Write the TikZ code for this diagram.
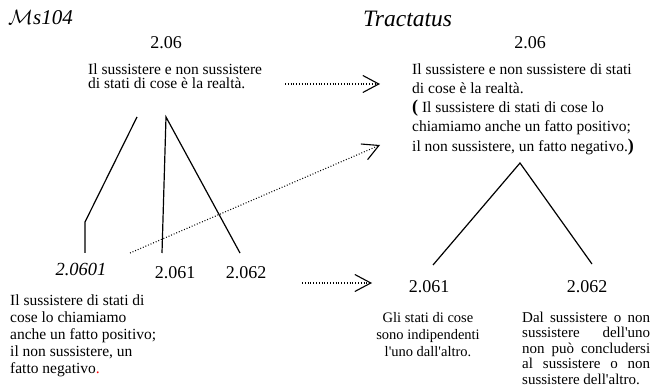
\documentclass[tikz,border=0pt]{standalone}
\usepackage{fontspec}
\setmainfont{Liberation Serif}
\usepackage{tikz}
\usetikzlibrary{arrows.meta,positioning}
\setlength{\lineskiplimit}{-30pt}
\newcommand{\jline}[1]{\makebox[128pt][s]{#1}}

\begin{document}
\begin{tikzpicture}[x=1pt,y=-1pt,
  num/.style={font=\fontsize{18}{20}\selectfont,inner sep=0pt,anchor=base},
  prose/.style={inner sep=0pt,anchor=north west,align=left},
  branch/.style={line width=1.2pt},
  ref/.style={line width=1.1pt,dash pattern=on 0.9pt off 1.9pt,
    -{Straight Barb[length=16pt,width=17pt,line width=1.1pt]}}]
  \useasboundingbox (0,0) rectangle (661,387);
  % Titles
  \node[inner sep=0pt,anchor=base west,font=\fontsize{21}{22}\selectfont\itshape]
    (mstitle) at (8,25) {$\mathcal{M}$s104};
  \node[inner sep=0pt,anchor=base west,font=\fontsize{23.5}{24}\selectfont\itshape]
    (tractitle) at (363,27) {Tractatus};
  % Ms104 side
  \node[num] (ms206) at (166,49) {2.06};
  \node[prose,font=\fontsize{15.5}{14.5}\selectfont] (ms206text) at (88,63.4)
    {Il sussistere e non sussistere\\di stati di cose è la realtà.};
  \node[num,font=\fontsize{18.5}{20}\selectfont\itshape] (ms20601) at (81,276) {2.0601};
  \node[num] (ms2061) at (175,279) {2.061};
  \node[num] (ms2062) at (246,279) {2.062};
  \node[prose,font=\fontsize{15.5}{17}\selectfont] (ms20601text) at (10,294.4)
    {Il sussistere di stati di\\cose lo chiamiamo\\anche un fatto positivo;\\
     il non sussistere, un\\fatto negativo\textcolor{red}{.}};
  % Tractatus side
  \node[num] (tr206) at (530,49) {2.06};
  \node[prose,font=\fontsize{15.5}{19.2}\selectfont] (tr206text) at (412,63.4)
    {Il sussistere e non sussistere di stati\\di cose è la realtà.\\
     {\fontsize{18}{19}\selectfont\bfseries(} Il sussistere di stati di cose lo\\
     chiamiamo anche un fatto positivo;\\
     il non sussistere, un fatto negativo.{\fontsize{18}{19}\selectfont\bfseries)}};
  \node[num] (tr2061) at (429,292) {2.061};
  \node[num] (tr2062) at (587,292) {2.062};
  \node[prose,anchor=north,align=center,font=\fontsize{14.5}{17}\selectfont]
    (tr2061text) at (428,312.2)
    {Gli stati di cose\\sono indipendenti\\l\textquotesingle uno dall\textquotesingle altro.};
  \node[prose,font=\fontsize{15}{15.5}\selectfont] (tr2062text) at (522,311.8)
    {\jline{Dal sussistere o non}\\\jline{sussistere \hfill dell\textquotesingle uno}\\
     \jline{non può concludersi}\\\jline{al sussistere o non}\\
     sussistere dell\textquotesingle altro.};
  % Branch points
  \coordinate (msforkl) at (137,117);
  \coordinate (msforkr) at (166,117);
  \coordinate (msbend) at (85,222);
  \coordinate (msend0601) at (85,253);
  \coordinate (msend061) at (162,253);
  \coordinate (msend062) at (240,253);
  \coordinate (trfork) at (520,163);
  \coordinate (trend061) at (433,265);
  \coordinate (trend062) at (592,264);
  % Branches
  \draw[branch] (msforkl) -- (msbend) -- (msend0601);
  \draw[branch] (msend061) -- (msforkr) -- (msend062);
  \draw[branch] (trend061) -- (trfork) -- (trend062);
  % Correspondences
  \coordinate (refa0) at (285,84);
  \coordinate (refa1) at (380,84);
  \coordinate (refb0) at (130,253);
  \coordinate (refb1) at (380,145);
  \coordinate (refc0) at (302,283);
  \coordinate (refc1) at (372,283);
  \draw[ref] (refa0) -- (refa1);
  \draw[ref] (refb0) -- (refb1);
  \draw[ref] (refc0) -- (refc1);
\end{tikzpicture}
\end{document}
